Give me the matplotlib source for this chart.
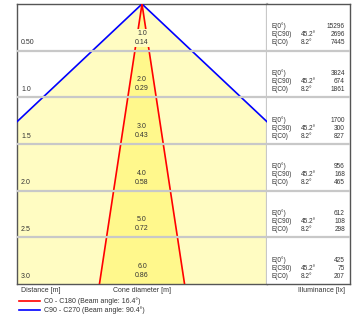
import numpy as np
import matplotlib.pyplot as plt

plt.rcParams['font.family'] = ['Liberation Sans', 'DejaVu Sans']

# data
distances = [0.5, 1.0, 1.5, 2.0, 2.5, 3.0]
distance_labels = ["0.50", "1.0", "1.5", "2.0", "2.5", "3.0"]
c90_diameters = ["1.0", "2.0", "3.0", "4.0", "5.0", "6.0"]
c0_diameters = ["0.14", "0.29", "0.43", "0.58", "0.72", "0.86"]
e_center = [15296, 3824, 1700, 956, 612, 425]
e_c90 = [2696, 674, 300, 168, 108, 75]
e_c0 = [7445, 1861, 827, 465, 298, 207]
half_angle_c90 = 45.2
half_angle_c0 = 8.2
beam_c0 = 16.4
beam_c90 = 90.4

light_yellow = '#fffcc2'
dark_yellow = '#fff88c'
grid_gray = '#c8c8c8'
frame_gray = '#555555'
txt = '#333333'
px = 3.0 / 280  # metres per pixel vertically

fig = plt.figure(figsize=(3.56, 3.2), dpi=100)
ax = fig.add_axes([17 / 356, 36 / 320, 250 / 356, 280 / 320])
tab = fig.add_axes([267 / 356, 36 / 320, 83 / 356, 280 / 320])

xmax = 1.27
ax.set_xlim(-xmax, xmax)
ax.set_ylim(3.0, 0)

dmax = 3.0
w90 = np.tan(np.radians(half_angle_c90)) * dmax
w0 = np.tan(np.radians(half_angle_c0)) * dmax
ax.fill([0, -w90, w90], [0, dmax, dmax], color=light_yellow, lw=0, zorder=1)
ax.fill([0, -w0, w0], [0, dmax, dmax], color=dark_yellow, lw=0, zorder=2)
ax.plot([-w90, 0, w90], [dmax, 0, dmax], color='#0000ff', lw=1.2, zorder=3,
        solid_joinstyle='miter')
ax.plot([-w0, 0, w0], [dmax, 0, dmax], color='#ff0000', lw=1.2, zorder=3)

for dist in distances[:-1]:
    ax.axhline(dist, color=grid_gray, lw=1.6, zorder=4)
    tab.axhline(dist, color=grid_gray, lw=1.6, zorder=4)

for i, dist in enumerate(distances):
    ax.text(-xmax + 4 * 2 * xmax / 250, dist - 8 * px, distance_labels[i],
            fontsize=5, color=txt, va='center', ha='left', zorder=5)
    box = None
    if i == 0:
        box = dict(facecolor=light_yellow, edgecolor='none', pad=0.6)
    ax.text(0, dist - 17.5 * px, c90_diameters[i], fontsize=5, color=txt,
            va='center', ha='center', zorder=5, bbox=box)
    ax.text(0, dist - 8.5 * px, c0_diameters[i], fontsize=5, color=txt,
            va='center', ha='center', zorder=5, bbox=box)
    rows = [("E(0°)", "", e_center[i]),
            ("E(C90)", f"{half_angle_c90}°", e_c90[i]),
            ("E(C0)", f"{half_angle_c0}°", e_c0[i])]
    for j, (name, ang, val) in enumerate(rows):
        y = dist - (22.5 - 8 * j) * px
        tab.text(4, y, name, fontsize=4.7, color=txt, va='baseline', ha='left')
        tab.text(34, y, ang, fontsize=4.7, color=txt, va='baseline', ha='left')
        tab.text(78, y, str(val), fontsize=4.7, color=txt, va='baseline', ha='right')

tab.set_xlim(0, 83)
tab.set_ylim(3.0, 0)

for a in (ax, tab):
    a.set_xticks([])
    a.set_yticks([])
    for s in a.spines.values():
        s.set_color(frame_gray)
        s.set_linewidth(1.0)
ax.spines['right'].set_color(grid_gray)
ax.spines['right'].set_linewidth(1.6)
tab.spines['left'].set_visible(False)

fig.text(21 / 356, 1 - 291 / 320, "Distance [m]", fontsize=5, color=txt, va='center', ha='left')
fig.text(142 / 356, 1 - 291 / 320, "Cone diameter [m]", fontsize=5, color=txt, va='center', ha='center')
fig.text(345 / 356, 1 - 291 / 320, "Illuminance [lx]", fontsize=5, color=txt, va='center', ha='right')

fig.add_artist(plt.Line2D([19 / 356, 40 / 356], [1 - 301 / 320] * 2, color='#ff0000', lw=1.2))
fig.add_artist(plt.Line2D([19 / 356, 40 / 356], [1 - 310 / 320] * 2, color='#0000ff', lw=1.2))
fig.text(44 / 356, 1 - 301 / 320, f"C0 - C180 (Beam angle: {beam_c0}°)", fontsize=5, color=txt, va='center', ha='left')
fig.text(44 / 356, 1 - 310 / 320, f"C90 - C270 (Beam angle: {beam_c90}°)", fontsize=5, color=txt, va='center', ha='left')

fig.savefig('out.png', dpi=100)
